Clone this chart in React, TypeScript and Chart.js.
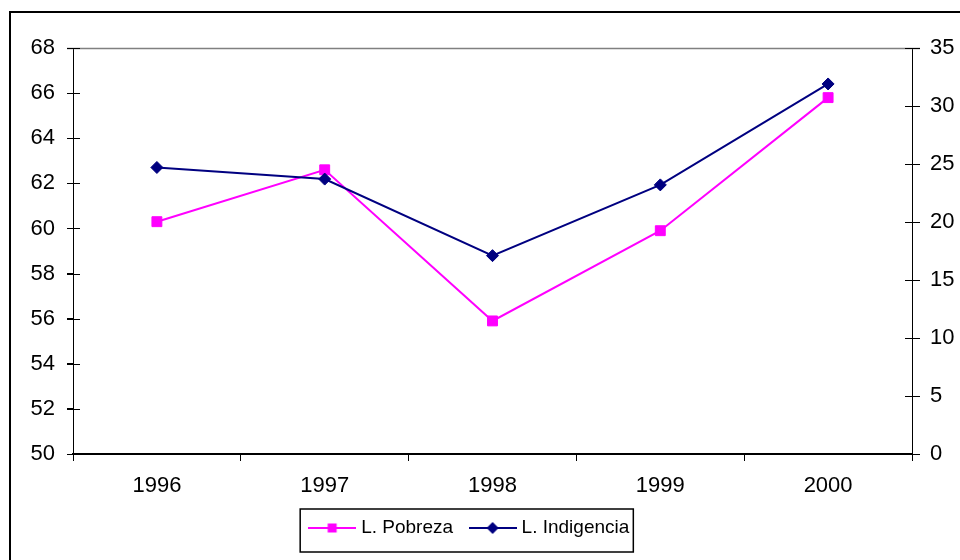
import React, { useEffect, useRef } from "react";
import { Chart, registerables } from "chart.js";

Chart.register(...registerables);

const categories = ["1996", "1997", "1998", "1999", "2000"];
const pobreza = [60.3, 62.6, 55.9, 59.9, 65.8];
const indigencia = [24.7, 23.7, 17.1, 23.2, 31.9];
const seriesNames = ["L. Pobreza", "L. Indigencia"];
const leftAxis = { min: 50, max: 68, step: 2 };
const rightAxis = { min: 0, max: 35, step: 5 };

const PINK = "#FF00FF";
const NAVY = "#000080";
const FONT = "'Liberation Sans', Arial, sans-serif";

function legendIcon(color: string, kind: "square" | "diamond") {
  const c = document.createElement("canvas");
  c.width = 48;
  c.height = 14;
  const ctx = c.getContext("2d")!;
  ctx.strokeStyle = color;
  ctx.lineWidth = 2;
  ctx.beginPath();
  ctx.moveTo(0, 7);
  ctx.lineTo(48, 7);
  ctx.stroke();
  ctx.fillStyle = color;
  if (kind === "square") {
    ctx.fillRect(24 - 4.5, 7 - 4.5, 9, 9);
  } else {
    ctx.beginPath();
    ctx.moveTo(18, 7);
    ctx.lineTo(24, 1);
    ctx.lineTo(30, 7);
    ctx.lineTo(24, 13);
    ctx.closePath();
    ctx.fill();
  }
  return c;
}

const framePlugin = {
  id: "frame",
  beforeDraw(chart: any) {
    const ctx = chart.ctx;
    ctx.save();
    ctx.fillStyle = "#fff";
    ctx.fillRect(0, 0, chart.width, chart.height);
    ctx.restore();
  },
  afterLayout(chart: any) {
    const lg = chart.legend;
    if (lg) {
      lg.left -= 9;
      lg.right -= 9;
    }
  },
  afterDraw(chart: any) {
    const ctx = chart.ctx;
    const { left, right, top } = chart.chartArea;
    ctx.save();
    // top boundary line
    ctx.strokeStyle = "#808080";
    ctx.lineWidth = 1.5;
    ctx.beginPath();
    ctx.moveTo(left - 6, top + 0.5);
    ctx.lineTo(right + 8, top + 0.5);
    ctx.stroke();
    // cross ticks
    ctx.strokeStyle = "#000";
    ctx.lineWidth = 1;
    ctx.beginPath();
    const ys = chart.scales.y;
    ys.ticks.forEach((t: any) => {
      const p = Math.round(ys.getPixelForValue(t.value)) + 0.5;
      ctx.moveTo(left - 6, p);
      ctx.lineTo(left + 7, p);
    });
    const yr = chart.scales.y1;
    yr.ticks.forEach((t: any) => {
      const p = Math.round(yr.getPixelForValue(t.value)) + 0.5;
      ctx.moveTo(right - 7, p);
      ctx.lineTo(right + 8, p);
    });
    ctx.stroke();
    // legend border
    const lg = chart.legend;
    if (lg && lg.legendHitBoxes && lg.legendHitBoxes.length) {
      const hbs = lg.legendHitBoxes;
      const first = hbs[0];
      const last = hbs[hbs.length - 1];
      const cy = first.top + first.height / 2;
      const bl = first.left - 12.5;
      const br = last.left + last.width + 4;
      ctx.lineWidth = 1.5;
      ctx.strokeStyle = "#000";
      ctx.strokeRect(bl, cy - 19, br - bl, 43);
    }
    // outer frame
    ctx.lineWidth = 2;
    ctx.strokeStyle = "#000";
    ctx.strokeRect(10, 12, 1200, 1200);
    ctx.restore();
  },
};

export default function App() {
  const ref = useRef<HTMLCanvasElement>(null);

  useEffect(() => {
    if (!ref.current) return;
    const icons = [legendIcon(PINK, "square"), legendIcon(NAVY, "diamond")];
    const colors = [PINK, NAVY];
    const tickFont = { family: FONT, size: 22 };
    const chart = new Chart(ref.current, {
      type: "line",
      data: {
        labels: categories,
        datasets: [
          {
            label: seriesNames[0],
            data: pobreza,
            yAxisID: "y",
            borderColor: PINK,
            backgroundColor: PINK,
            borderWidth: 2,
            pointStyle: "rect",
            pointRadius: 7,
            pointBorderWidth: 1,
            pointBackgroundColor: PINK,
            pointBorderColor: PINK,
            tension: 0,
            order: 1,
          },
          {
            label: seriesNames[1],
            data: indigencia,
            yAxisID: "y1",
            borderColor: NAVY,
            backgroundColor: NAVY,
            borderWidth: 2,
            pointStyle: "rectRot",
            pointRadius: 6,
            pointBorderWidth: 1,
            pointBackgroundColor: NAVY,
            pointBorderColor: NAVY,
            tension: 0,
            order: 0,
          },
        ],
      },
      options: {
        responsive: false,
        animation: false,
        events: [],
        layout: { padding: { top: 48, left: 0, right: 0, bottom: 12.5 } },
        plugins: {
          tooltip: { enabled: false },
          legend: {
            position: "bottom",
            labels: {
              usePointStyle: true,
              pointStyleWidth: 39,
              padding: 20,
              color: "#000",
              font: { family: FONT, size: 19 },
              generateLabels: () =>
                seriesNames.map((name, i) => ({
                  text: name,
                  fillStyle: colors[i],
                  strokeStyle: colors[i],
                  lineWidth: 0,
                  pointStyle: icons[i],
                  hidden: false,
                  datasetIndex: i,
                  fontColor: "#000",
                })) as any,
            },
          },
        },
        scales: {
          x: {
            type: "category",
            offset: true,
            grid: { offset: true, drawOnChartArea: false, tickLength: 7, color: "#000", lineWidth: 1 },
            border: { color: "#000", width: 2 },
            ticks: { color: "#000", font: tickFont, padding: 12, maxRotation: 0 },
            afterFit: (s: any) => {
              s.height = 44.5;
            },
          },
          y: {
            position: "left",
            min: leftAxis.min,
            max: leftAxis.max,
            ticks: { stepSize: leftAxis.step, color: "#000", font: tickFont, padding: 12 },
            grid: { drawOnChartArea: false, tickLength: 6, color: "#000", lineWidth: 1 },
            border: { color: "#000", width: 1 },
            afterFit: (s: any) => {
              s.width = 73;
            },
          },
          y1: {
            position: "right",
            min: rightAxis.min,
            max: rightAxis.max,
            ticks: { stepSize: rightAxis.step, color: "#000", font: tickFont, padding: 10 },
            grid: { drawOnChartArea: false, tickLength: 8, color: "#000", lineWidth: 1 },
            border: { color: "#000", width: 1 },
            afterFit: (s: any) => {
              s.width = 960 - 912;
            },
          },
        },
      },
      plugins: [framePlugin],
    });
    return () => chart.destroy();
  }, []);

  return (
    <div style={{ position: "fixed", left: 0, top: 0, width: 960, height: 560, background: "#fff" }}>
      <canvas ref={ref} width={960} height={560} style={{ display: "block" }} />
    </div>
  );
}
